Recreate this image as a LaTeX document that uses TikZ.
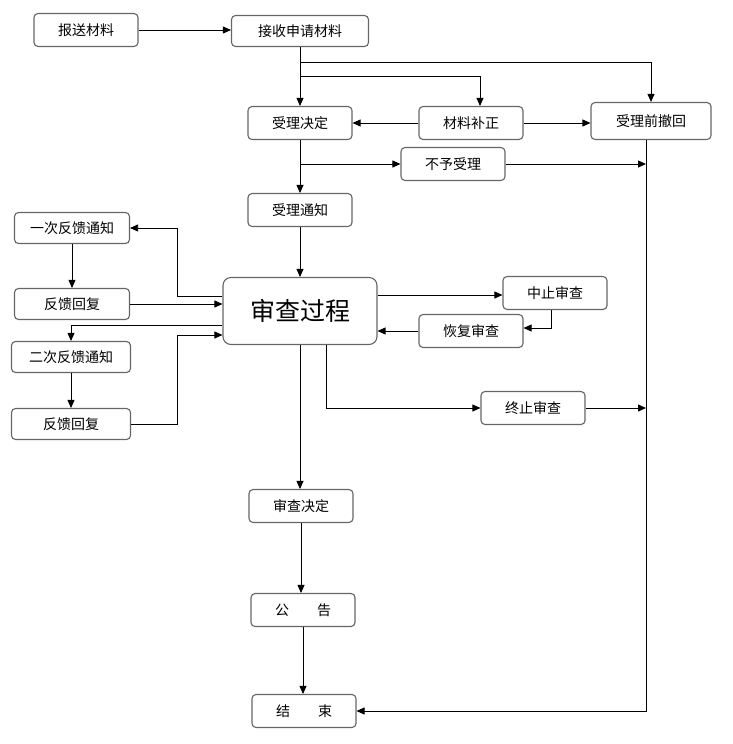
\documentclass[tikz,border=0pt]{standalone}
\usepackage{fontspec}
\newfontfamily\cjk{Noto Sans CJK SC}
\usetikzlibrary{arrows.meta}
\tikzset{
  box/.style = {draw=black!60, line width=1.1pt, rounded corners=4pt, fill=white,
    minimum width=104pt, minimum height=33pt, inner sep=0pt,
    font=\cjk\fontsize{14}{16}\selectfont},
  arr/.style = {-{Triangle[length=8pt,width=7pt]}, line width=0.8pt}
}

\begin{document}
\begin{tikzpicture}[x=1pt,y=-1pt]
  \useasboundingbox (0,0) rectangle (732,744);
  %%% acceptance
  \node[box] (submit) at (86,30) {报送材料};
  \node[box, minimum width=137pt, minimum height=31pt] (receive) at (300,31) {接收申请材料};
  \node[box] (decide) at (300,123) {受理决定};
  \node[box] (amend) at (471,123) {材料补正};
  \node[box, minimum width=120pt, minimum height=37pt] (withdraw) at (651,121) {受理前撤回};
  \node[box] (reject) at (453,164) {不予受理};
  \node[box] (notice) at (300,210) {受理通知};
  %%% review
  \node[box, minimum width=154pt, minimum height=67pt, rounded corners=8pt,
    font=\cjk\fontsize{25}{27}\selectfont] (review) at (300,311) {审查过程};
  \node[box, minimum width=115pt, minimum height=31pt] (fbone) at (72,228) {一次反馈通知};
  \node[box, minimum width=115pt, minimum height=31pt] (reone) at (72,304) {反馈回复};
  \node[box, minimum width=119pt, minimum height=31pt] (fbtwo) at (71,357) {二次反馈通知};
  \node[box, minimum width=119pt, minimum height=31pt] (retwo) at (71,424) {反馈回复};
  \node[box] (pause) at (555,293) {中止审查};
  \node[box] (resume) at (471,331) {恢复审查};
  \node[box] (stop) at (533,408) {终止审查};
  %%% ending
  \node[box] (verdict) at (301,506) {审查决定};
  \node[box] (announce) at (303,610) {公\hspace{2em}告};
  \node[box] (finish) at (304,711) {结\hspace{2em}束};
  %%% helper coordinates
  \coordinate (splitA) at (300,62);
  \coordinate (splitB) at (300,76);
  \coordinate (splitC) at (300,164);
  \coordinate (rail) at (646,0);
  \coordinate (busl) at (177,0);
  %
  \draw[arr] (submit.east) -- (submit.east -| receive.west);
  \draw[arr] (receive) -- (decide);
  \draw[arr] (splitA) -| (withdraw.north);
  \draw[arr] (splitB) -| ([xshift=9pt]amend.north);
  \draw[arr] (amend) -- (decide);
  \draw[arr] (amend.east) -- (amend.east -| withdraw.west);
  \draw[arr] (splitC) -- (reject.west);
  \draw[arr] (reject.east) -- (reject.east -| rail);
  \draw[arr] (withdraw.south -| rail) |- (finish.east);
  \draw[arr] (decide) -- (notice);
  \draw[arr] (notice) -- (review);
  %
  \draw[arr] ([yshift=15pt]review.west) -| (busl |- fbone.east) -- (fbone.east);
  \draw[arr] (fbone) -- (reone);
  \draw[arr] (reone.east) -- (reone.east -| review.west);
  \draw[arr] ([yshift=-14pt]review.west) -| (fbtwo.north);
  \draw[arr] (fbtwo) -- (retwo);
  \draw[arr] (retwo.east) -| ([yshift=-24pt]review.west -| busl) -- ([yshift=-24pt]review.west);
  %
  \draw[arr] ([yshift=16pt]review.east) -- ([yshift=16pt]review.east -| pause.west);
  \draw[arr] ([xshift=-4pt]pause.south) |- ([yshift=3pt]resume.east);
  \draw[arr] (resume.west) -- (resume.west -| review.east);
  \draw[arr] ([xshift=26pt]review.south) |- (stop.west);
  \draw[arr] (stop.east) -- (stop.east -| rail);
  %
  \draw[arr] (review.south) -- (review.south |- verdict.north);
  \draw[arr] (verdict.south) -- (verdict.south |- announce.north);
  \draw[arr] (announce.south) -- (announce.south |- finish.north);
\end{tikzpicture}
\end{document}
